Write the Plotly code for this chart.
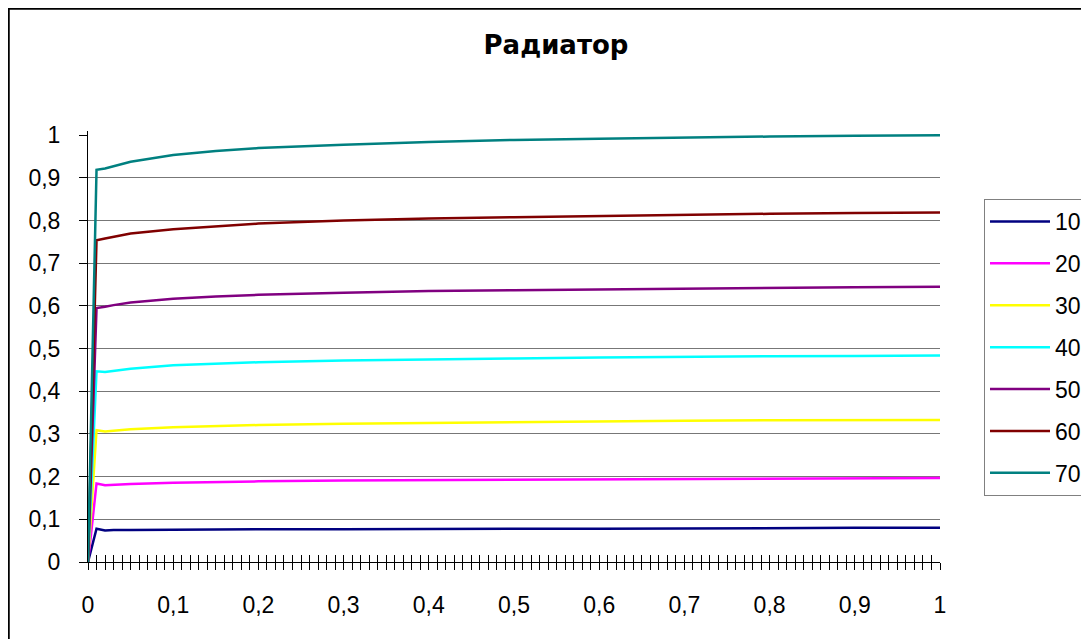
import plotly.graph_objects as go

# x positions (category axis 0..1)
x_vals = [0, 0.01, 0.02, 0.03, 0.05, 0.1, 0.15, 0.2, 0.3, 0.4, 0.5, 0.6, 0.7, 0.8, 0.9, 1.0]

s10 = [0, 0.078, 0.074, 0.075, 0.075, 0.076, 0.076, 0.077, 0.077, 0.078, 0.078, 0.078, 0.079, 0.079, 0.080, 0.080]
s20 = [0, 0.184, 0.180, 0.181, 0.183, 0.186, 0.188, 0.189, 0.191, 0.192, 0.193, 0.194, 0.195, 0.196, 0.196, 0.197]
s30 = [0, 0.309, 0.306, 0.308, 0.311, 0.316, 0.319, 0.321, 0.324, 0.326, 0.328, 0.330, 0.331, 0.332, 0.333, 0.333]
s40 = [0, 0.447, 0.445, 0.448, 0.453, 0.461, 0.465, 0.468, 0.472, 0.475, 0.477, 0.479, 0.481, 0.482, 0.483, 0.484]
s50 = [0, 0.595, 0.598, 0.602, 0.608, 0.617, 0.622, 0.626, 0.631, 0.635, 0.637, 0.639, 0.641, 0.643, 0.644, 0.645]
s60 = [0, 0.754, 0.758, 0.762, 0.770, 0.780, 0.787, 0.793, 0.800, 0.805, 0.808, 0.811, 0.814, 0.816, 0.818, 0.819]
s70 = [0, 0.919, 0.922, 0.927, 0.938, 0.954, 0.963, 0.970, 0.978, 0.984, 0.989, 0.992, 0.995, 0.997, 0.999, 1.000]

series_names = ["10", "20", "30", "40", "50", "60", "70"]
series_values = [s10, s20, s30, s40, s50, s60, s70]
series_colors = ["#000080", "#FF00FF", "#FFFF00", "#00FFFF", "#800080", "#800000", "#008080"]

title_text = "Радиатор"
y_tickvals = [0, 0.1, 0.2, 0.3, 0.4, 0.5, 0.6, 0.7, 0.8, 0.9, 1.0]
y_gridvals = [0.1, 0.2, 0.3, 0.4, 0.5, 0.6, 0.7, 0.8, 0.9]

FONT = "Liberation Sans, Arial, sans-serif"
TITLE_FONT = "DejaVu Sans, Liberation Sans, sans-serif"

# page body adds an 8px offset; layout below is in figure coordinates
L, R, T, B = 80, 157, 123, 85
PW = 1089 - L - R
PH = 639 - T - B

fig = go.Figure()
for name, vals, col in zip(series_names, series_values, series_colors):
    fig.add_trace(go.Scatter(
        x=x_vals, y=vals, name=name, mode="lines",
        line=dict(color=col, width=2.5),
        legendgroup=name,
    ))

# helper trace for overlay axes (inside x ticks + y gridlines)
fig.add_trace(go.Scatter(x=[], y=[], xaxis="x2", yaxis="y2", showlegend=False, hoverinfo="skip"))

fig.update_layout(
    width=1089, height=639,
    paper_bgcolor="white", plot_bgcolor="white",
    separators=", ",
    margin=dict(l=L, r=R, t=T, b=B, autoexpand=False),
    title=dict(text="<b>" + title_text + "</b>", x=548 / 1089, xref="container", xanchor="center",
               y=1 - 37 / 639, yref="container", yanchor="middle",
               font=dict(family=TITLE_FONT, size=26, color="black")),
    font=dict(family=FONT, size=23, color="black"),
    showlegend=True,
    legend=dict(
        x=(976 - L) / PW, xanchor="left", y=(T + PH - 191) / PH, yanchor="top",
        bordercolor="#808080", borderwidth=1, bgcolor="white",
        font=dict(family=FONT, size=23, color="black"),
        traceorder="grouped", tracegroupgap=9, itemwidth=60, entrywidth=100,
    ),
    xaxis=dict(
        range=[0, 1], dtick=0.1, tick0=0, showgrid=False, zeroline=False,
        showline=True, linecolor="black", linewidth=1,
        ticks="outside", ticklen=7, tickcolor="black", tickwidth=1,
        minor=dict(dtick=0.01, ticks="outside", ticklen=7, tickcolor="black", tickwidth=1, showgrid=False),
        ticklabelstandoff=15,
        tickfont=dict(family=FONT, size=23, color="black"),
    ),
    yaxis=dict(
        range=[0, 1.01], tickvals=y_tickvals,
        showgrid=False, zeroline=False,
        showline=True, linecolor="black", linewidth=1,
        ticks="outside", ticklen=8, tickcolor="black", tickwidth=1,
        ticklabelstandoff=14,
        tickfont=dict(family=FONT, size=23, color="black"),
    ),
    xaxis2=dict(
        overlaying="x", anchor="y", range=[0, 1], dtick=0.01, tick0=0,
        ticks="inside", ticklen=7, tickcolor="black", tickwidth=1,
        showticklabels=False, showgrid=False, zeroline=False, showline=False, side="bottom",
    ),
    yaxis2=dict(
        overlaying="y", anchor="x", range=[0, 1.01], tickvals=y_gridvals,
        showgrid=True, gridcolor="#777777", gridwidth=1,
        ticks="", showticklabels=False, zeroline=False, showline=False, side="left",
    ),
    shapes=[dict(
        type="rect", xref="paper", yref="paper",
        x0=(0.5 - L) / PW, x1=(1150 - L) / PW,
        y0=(T + PH - 700) / PH, y1=(T + PH - 0.5) / PH,
        line=dict(color="black", width=2.5), fillcolor="rgba(0,0,0,0)", layer="above",
    )],
)

fig.write_html("out.html")
